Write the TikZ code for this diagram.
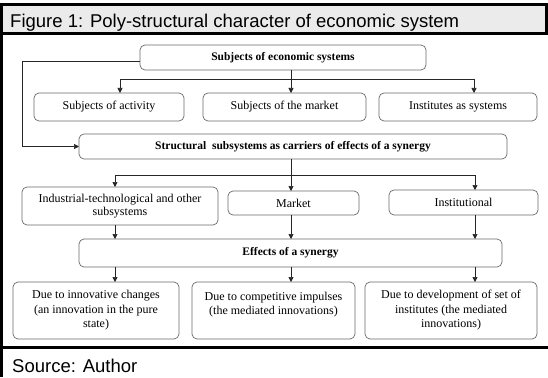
\documentclass[tikz,border=0pt]{standalone}
\usepackage{fontspec}
\setmainfont{Liberation Serif}
\newfontfamily\capfont{Liberation Sans}
\usetikzlibrary{arrows.meta}

\definecolor{barfill}{HTML}{EBEBEB}
\definecolor{boxline}{HTML}{6A6A6A}
\definecolor{wire}{HTML}{262626}

\tikzset{
  box/.style={draw=boxline, line width=0.7pt, rounded corners=5pt,
    inner sep=0pt, outer sep=0pt, align=center, fill=white,
    font=\fontsize{12}{14.5}\selectfont},
  headbox/.style={box, font=\fontsize{11.5}{13}\bfseries},
  wireline/.style={draw=wire, line width=0.7pt},
  arrowline/.style={wireline, -{Triangle[length=5pt,width=5pt]}},
  frameline/.style={draw=black, line width=2.4pt}
}

\begin{document}
\begin{tikzpicture}[x=1pt,y=-1pt]
  \useasboundingbox (0,0) rectangle (548,377);
  \fill[white] (0,0) rectangle (548,377);

  % caption bar, outer frame and footer rule
  \filldraw[fill=barfill, draw=black, line width=2.2pt] (1.5,4.5) rectangle (546.5,33.5);
  \draw[frameline, line width=3pt] (1.5,4.5) -- (1.5,377);
  \draw[frameline] (0,347.5) -- (548,347.5);
  \node[anchor=base west, inner sep=0pt, font=\capfont\fontsize{18.5}{20}\selectfont]
    (title) at (10,28) {Figure 1: Poly-structural character of economic system};
  \node[anchor=base west, inner sep=0pt, font=\capfont\fontsize{18.5}{20}\selectfont]
    (source) at (12,372) {Source: Author};

  % level 1
  \node[headbox, minimum width=286pt, minimum height=25pt] (top) at (283,57.5)
    {Subjects of economic systems};
  \node[box, minimum width=150pt, minimum height=28pt] (A) at (109,107) {Subjects of activity};
  \node[box, minimum width=163pt, minimum height=28pt] (B) at (284.5,107) {Subjects of the market};
  \node[box, minimum width=158pt, minimum height=28pt] (C) at (458,107) {Institutes as systems};

  % level 2
  \node[headbox, minimum width=428pt, minimum height=25pt] (struct) at (293,146.5)
    {Structural\ \ subsystems as carriers of effects of a synergy};
  \node[box, minimum width=196pt, minimum height=38pt,
        font=\fontsize{12}{12.5}\selectfont] (D) at (120,206)
    {Industrial-technological and other\\subsystems};
  \node[box, minimum width=131pt, minimum height=24pt] (E) at (293.5,203) {Market};
  \node[box, minimum width=149pt, minimum height=25pt] (F) at (463.5,202.5) {Institutional};

  % level 3
  \node[headbox, minimum width=423pt, minimum height=28pt] (eff) at (290.5,253)
    {Effects of a synergy};
  \node[box, minimum width=166pt, minimum height=57pt] (G) at (96,310.5)
    {Due to innovative changes\\(an innovation in the pure\\state)};
  \node[box, minimum width=163pt, minimum height=57pt] (H) at (273.5,310.5)
    {Due to competitive impulses\\(the mediated innovations)\\\mbox{}};
  \node[box, minimum width=172pt, minimum height=57pt] (I) at (451,310.5)
    {Due to development of set of\\institutes (the mediated\\innovations)};

  % bus positions
  \coordinate (p1l) at (120,79);
  \coordinate (p1m) at (291,79);
  \coordinate (p1r) at (474,79);
  \coordinate (p2l) at (115,175);
  \coordinate (p2m) at (291,175);
  \coordinate (p2r) at (475,175);

  % connectors from the subjects box
  \draw[wireline] (p1l) -- (p1r);
  \draw[arrowline] (p1m |- top.south) -- (p1m |- B.north);
  \draw[arrowline] (p1l) -- (p1l |- A.north);
  \draw[arrowline] (p1r) -- (p1r |- C.north);
  \draw[arrowline] ([yshift=-3.5pt]top.west) -| ([xshift=-57pt]struct.west) -- (struct.west);

  % connectors from the structural subsystems box
  \draw[wireline] (p2l) -- (p2r);
  \draw[arrowline] (p2m |- struct.south) -- (p2m |- E.north);
  \draw[arrowline] (p2l) -- (p2l |- D.north);
  \draw[arrowline] (p2r) -- (p2r |- F.north);

  % subsystems into effects
  \draw[arrowline] (p2l |- D.south) -- (p2l |- eff.north);
  \draw[arrowline] (p2m |- E.south) -- (p2m |- eff.north);
  \draw[arrowline] (p2r |- F.south) -- (p2r |- eff.north);

  % effects into kinds of effect
  \draw[arrowline] (p2l |- eff.south) -- (p2l |- G.north);
  \draw[arrowline] (p2m |- eff.south) -- (p2m |- H.north);
  \draw[arrowline] (p2r |- eff.south) -- (p2r |- I.north);
\end{tikzpicture}
\end{document}
